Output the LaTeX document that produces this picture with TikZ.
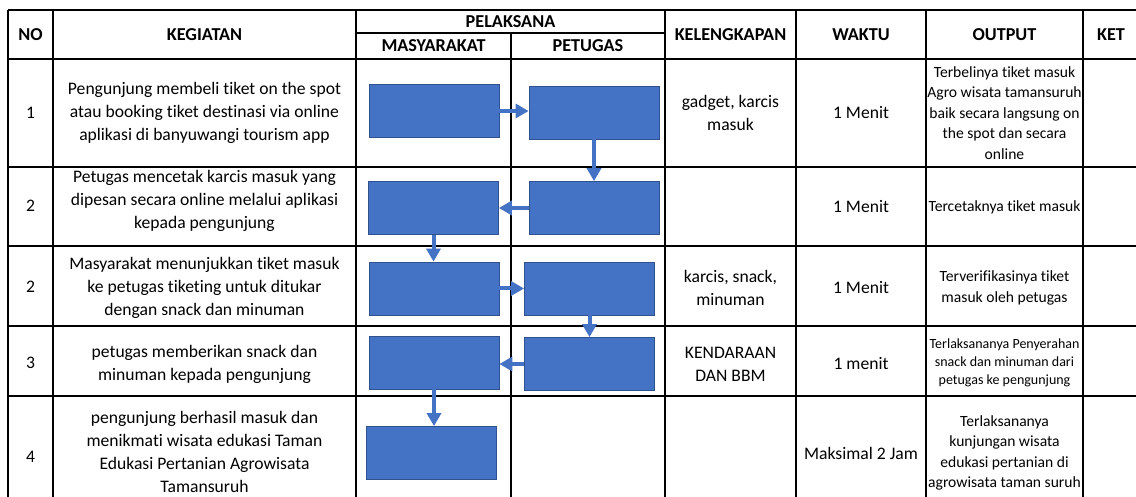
\documentclass[tikz,border=0pt]{standalone}
\usepackage{fontspec}
\setmainfont[Ligatures=NoCommon]{Carlito}
\usepackage{tikz}
\usetikzlibrary{positioning,arrows.meta,calc}

\definecolor{birubox}{HTML}{4472C4}
\definecolor{birugaris}{HTML}{2F528F}

\begin{document}
\begin{tikzpicture}[x=1pt, y=-1pt,
      garis/.style={line width=1.7pt, black},
      kotak/.style={draw=birugaris, fill=birubox, line width=0.8pt, minimum width=130pt, minimum height=53pt, inner sep=0pt},
      judul/.style={align=center, font=\fontsize{18.2}{21}\selectfont\bfseries},
      teks/.style={align=center, font=\fontsize{17.6}{23}\selectfont},
      kecil/.style={align=center, font=\fontsize{15.6}{20.5}\selectfont},
      arr/.style={birubox, line width=4pt, -{Triangle[length=13pt, width=14pt]}},
    ]
    \useasboundingbox (0,0) rectangle (1136,497);
    % garis tabel
    \draw[garis] (8,10) -- (1136,10) (356,33) -- (665,33) (8,59) -- (1136,59)
      (8,167) -- (1136,167) (8,246) -- (1136,246) (8,326) -- (1136,326) (8,396) -- (1136,396);
    \draw[garis] (8,10) -- (8,497) (53,10) -- (53,497) (356,10) -- (356,497) (511,33) -- (511,497)
      (665,10) -- (665,497) (796,10) -- (796,497) (926,10) -- (926,497) (1083,10) -- (1083,497);
    % kepala tabel
    \node[judul] (hno) at (30.5,34.5) {NO};
    \node[judul] (hkeg) at (204.5,34.5) {KEGIATAN};
    \node[judul] (hpel) at (510.5,21.5) {PELAKSANA};
    \node[judul] (hmas) at (433.5,46) {MASYARAKAT};
    \node[judul] (hpet) at (588,46) {PETUGAS};
    \node[judul] (hkel) at (730.5,34.5) {KELENGKAPAN};
    \node[judul] (hwkt) at (861,34.5) {WAKTU};
    \node[judul] (hout) at (1004.5,34.5) {OUTPUT};
    \node[judul] (hket) at (1111,34.5) {KET};
    % baris 1
    \node[teks] (no1) at (30.5,113) {1};
    \node[teks] (keg1) at (204.5,113) {Pengunjung membeli tiket on the spot\\atau booking tiket destinasi via online\\aplikasi di banyuwangi tourism app};
    \node[teks] (kel1) at (730.5,113) {gadget, karcis\\masuk};
    \node[teks] (wkt1) at (861,113) {1 Menit};
    \node[kecil] (out1) at (1004.5,113) {Terbelinya tiket masuk\\Agro wisata tamansuruh\\baik secara langsung on\\the spot dan secara\\online};
    % baris 2
    \node[teks] (no2) at (30.5,206) {2};
    \node[teks] (keg2) at (204.5,201) {Petugas mencetak karcis masuk yang\\dipesan secara online melalui aplikasi\\kepada pengunjung};
    \node[teks] (wkt2) at (861,207) {1 Menit};
    \node[kecil] (out2) at (1004.5,207) {Tercetaknya tiket masuk};
    % baris 3
    \node[teks] (no3) at (30.5,287) {2};
    \node[teks] (keg3) at (204.5,288) {Masyarakat menunjukkan tiket masuk\\ke petugas tiketing untuk ditukar\\dengan snack dan minuman};
    \node[teks] (kel3) at (730.5,288) {karcis, snack,\\minuman};
    \node[teks] (wkt3) at (861,288) {1 Menit};
    \node[kecil] (out3) at (1004.5,288) {Terverifikasinya tiket\\masuk oleh petugas};
    % baris 4
    \node[teks] (no4) at (30.5,363) {3};
    \node[teks] (keg4) at (204.5,364) {petugas memberikan snack dan\\minuman kepada pengunjung};
    \node[teks] (kel4) at (730.5,364) {KENDARAAN\\DAN BBM};
    \node[teks] (wkt4) at (861,364) {1 menit};
    \node[kecil, font=\fontsize{14}{18}\selectfont] (out4) at (1004.5,363) {Terlaksananya Penyerahan\\snack dan minuman dari\\petugas ke pengunjung};
    % baris 5
    \node[teks] (no5) at (30.5,457) {4};
    \node[teks] (keg5) at (204.5,452) {pengunjung berhasil masuk dan\\menikmati wisata edukasi Taman\\Edukasi Pertanian Agrowisata\\Tamansuruh};
    \node[teks] (wkt5) at (861,453) {Maksimal 2 Jam};
    \node[kecil] (out5) at (1004.5,453) {Terlaksananya\\kunjungan wisata\\edukasi pertanian di\\agrowisata taman suruh};
    % kotak alur
    \node[kotak] (m1) at (434,111) {};
    \node[kotak] (p1) at (594,112.5) {};
    \node[kotak] (m2) at (433.5,208) {};
    \node[kotak] (p2) at (594,208) {};
    \node[kotak] (m3) at (434,288.5) {};
    \node[kotak] (p3) at (589.5,288.5) {};
    \node[kotak] (m4) at (434,362.5) {};
    \node[kotak] (p4) at (589.5,364) {};
    \node[kotak] (m5) at (431,453) {};
    \draw[arr] (m1.east) -- (m1.east -| p1.west);
    \draw[arr] (p1.south) -- (p1.south |- p2.north);
    \draw[arr] (p2.west) -- (p2.west -| m2.east);
    \draw[arr] (m2.south) -- (m2.south |- m3.north);
    \draw[arr] (m3.east) -- (m3.east -| p3.west);
    \draw[arr] (p3.south) -- (p3.south |- p4.north);
    \draw[arr] (p4.west) -- (p4.west -| m4.east);
    \draw[arr] (m4.south) -- (m4.south |- m5.north);
  \end{tikzpicture}
\end{document}
